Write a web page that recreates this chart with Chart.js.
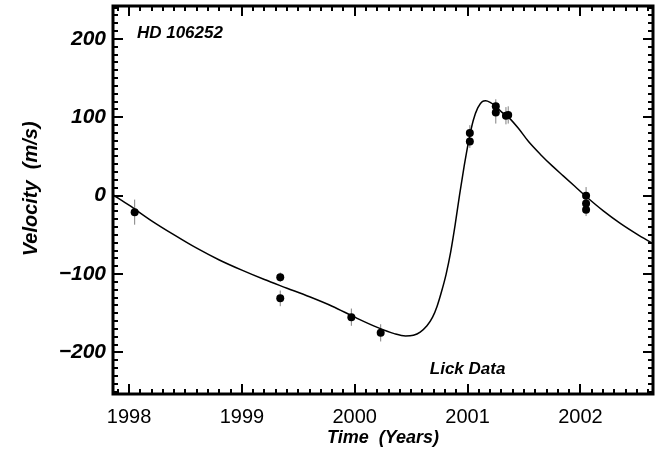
<!DOCTYPE html>
<html>
<head>
<meta charset="utf-8">
<script src="https://cdn.jsdelivr.net/npm/chart.js@4.4.0/dist/chart.umd.min.js"></script>
<style>
  html, body { margin: 0; padding: 0; background: #fff; }
  #wrap { width: 668px; height: 453px; }
</style>
</head>
<body>
<div id="wrap"><canvas id="rvChart" width="668" height="453"></canvas></div>
<script>
// Lick velocities of HD 106252 (years, m/s)
const obsYears = [1998.05, 1999.34, 1999.34, 1999.97, 2000.23, 2001.02, 2001.02, 2001.25, 2001.25, 2001.34, 2001.36, 2002.05, 2002.05, 2002.05];
const obsVel   = [-21, -104, -131, -155, -175, 80, 69, 114, 106, 102, 103, 0, -10, -18];
const obsErr   = [16, 6, 10, 11, 11, 10, 8, 9, 14, 11, 11, 11, 8, 8];

// orbit fit
const fitYears = [1997.86, 1998.0, 1998.2, 1998.4, 1998.6, 1998.8, 1999.0, 1999.2, 1999.4, 1999.6,
                  1999.8, 2000.0, 2000.2, 2000.35, 2000.45, 2000.52, 2000.58, 2000.64, 2000.69, 2000.73,
                  2000.77, 2000.81, 2000.85, 2000.89, 2000.93, 2000.97, 2001.01, 2001.05, 2001.09, 2001.13,
                  2001.16, 2001.2, 2001.25, 2001.3, 2001.37, 2001.45, 2001.54, 2001.65, 2001.75, 2001.85,
                  2001.95, 2002.05, 2002.2, 2002.35, 2002.5, 2002.64];
const fitVel   = [1, -12, -32, -50, -67, -82, -95, -107, -118, -129,
                  -141, -155, -168, -176, -179, -178, -174, -166, -155, -141,
                  -122, -100, -72, -37, 2, 38, 70, 96, 112, 120,
                  121, 119, 114, 107, 99, 86, 69, 52, 38, 25,
                  12, -1, -19, -35, -49, -61];

const xTicks = [1998, 1999, 2000, 2001, 2002];
const yTicks = [-200, -100, 0, 100, 200];
const xRange = [1997.858, 2002.643];
const yRange = [-253, 242];

const FONT = "'Liberation Sans', Arial, Helvetica, sans-serif";

// error bars as one broken line: low, high, gap
const errData = [];
obsYears.forEach((yr, i) => {
    errData.push({ x: yr, y: obsVel[i] - obsErr[i] });
    errData.push({ x: yr, y: obsVel[i] + obsErr[i] });
    errData.push({ x: yr, y: null });
});

// thick frame with inward ticks on all four sides, plus the two labels
const frameTicks = {
    id: 'frameTicks',
    afterDraw(chart) {
        const { ctx, chartArea: a, scales: { x, y } } = chart;
        ctx.save();
        ctx.strokeStyle = '#000';
        ctx.lineWidth = 2;
        ctx.beginPath();
        for (let k = Math.ceil(xRange[0] * 10); k <= Math.floor(xRange[1] * 10); k++) {
            const px = Math.round(x.getPixelForValue(k / 10));
            const len = k % 10 === 0 ? 10 : 5;
            ctx.moveTo(px, a.bottom); ctx.lineTo(px, a.bottom - len);
            ctx.moveTo(px, a.top); ctx.lineTo(px, a.top + len);
        }
        for (let k = Math.ceil(yRange[0] / 10); k <= Math.floor(yRange[1] / 10); k++) {
            const py = Math.round(y.getPixelForValue(k * 10));
            const len = k % 10 === 0 ? 10 : 5;
            ctx.moveTo(a.left, py); ctx.lineTo(a.left + len, py);
            ctx.moveTo(a.right, py); ctx.lineTo(a.right - len, py);
        }
        ctx.stroke();
        ctx.lineWidth = 3;
        ctx.strokeRect(a.left, a.top, a.right - a.left, a.bottom - a.top);

        ctx.fillStyle = '#000';
        ctx.font = 'italic bold 17px ' + FONT;
        ctx.textAlign = 'left';
        ctx.textBaseline = 'middle';
        ctx.fillText('HD 106252', x.getPixelForValue(1998.07), y.getPixelForValue(207));
        ctx.fillText('Lick Data', x.getPixelForValue(2000.665), y.getPixelForValue(-222));
        ctx.restore();
    }
};

const ctx = document.getElementById('rvChart').getContext('2d');
new Chart(ctx, {
    type: 'scatter',
    data: {
        datasets: [{
            label: 'Lick',
            data: obsYears.map((yr, i) => ({ x: yr, y: obsVel[i] })),
            backgroundColor: '#000',
            borderColor: '#000',
            pointRadius: 4,
            pointBorderWidth: 0,
            order: 1
        }, {
            label: 'Fit',
            data: fitYears.map((yr, i) => ({ x: yr, y: fitVel[i] })),
            showLine: true,
            borderColor: '#000',
            borderWidth: 1.5,
            pointRadius: 0,
            cubicInterpolationMode: 'monotone',
            order: 2
        }, {
            label: 'Errors',
            data: errData,
            showLine: true,
            spanGaps: false,
            borderColor: '#808080',
            borderWidth: 1,
            pointRadius: 0,
            order: 3
        }]
    },
    options: {
        responsive: false,
        devicePixelRatio: 1,
        animation: false,
        layout: { padding: { left: 0, right: 15, top: 6, bottom: 0 } },
        plugins: {
            legend: { display: false },
            tooltip: { enabled: false }
        },
        scales: {
            x: {
                type: 'linear',
                min: xRange[0],
                max: xRange[1],
                afterBuildTicks: s => { s.ticks = xTicks.map(v => ({ value: v })); },
                afterFit: s => { s.height = 59; s.paddingLeft = 0; s.paddingRight = 0; },
                grid: { display: false, drawTicks: false },
                border: { display: false },
                ticks: {
                    color: '#000',
                    font: { family: FONT, size: 20 },
                    padding: 11,
                    maxRotation: 0,
                    callback: v => String(v)
                },
                title: {
                    display: true,
                    text: 'Time  (Years)',
                    color: '#000',
                    font: { family: FONT, size: 18, weight: 'bold', style: 'italic' },
                    padding: { top: 4, bottom: 4 }
                }
            },
            y: {
                type: 'linear',
                min: yRange[0],
                max: yRange[1],
                afterBuildTicks: s => { s.ticks = yTicks.map(v => ({ value: v })); },
                afterFit: s => { s.width = 113; s.paddingTop = 0; s.paddingBottom = 0; },
                grid: { display: false, drawTicks: false },
                border: { display: false },
                ticks: {
                    color: '#000',
                    font: { family: FONT, size: 21, weight: 'bold', style: 'italic' },
                    padding: 7,
                    callback: v => (v < 0 ? '\u2212' + Math.abs(v) : String(v))
                },
                title: {
                    display: true,
                    text: '    Velocity  (m/s)',
                    color: '#000',
                    font: { family: FONT, size: 20, weight: 'bold', style: 'italic' },
                    padding: { top: 19, bottom: 19 }
                }
            }
        }
    },
    plugins: [frameTicks]
});
</script>
</body>
</html>
